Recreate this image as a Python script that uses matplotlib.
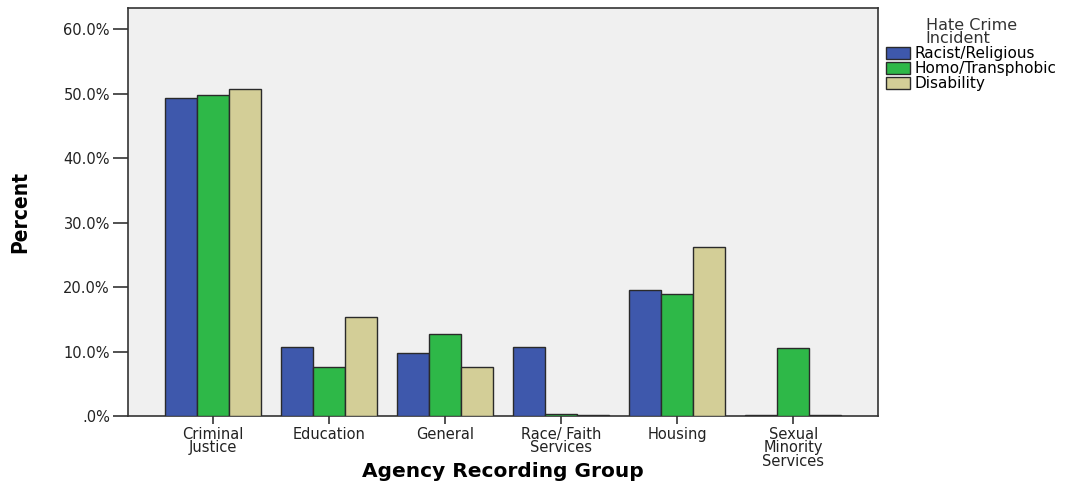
import matplotlib
matplotlib.use("Agg")
import matplotlib.pyplot as plt
import numpy as np

categories = ["Criminal\nJustice", "Education", "General", "Race/ Faith\nServices",
              "Housing", "Sexual\nMinority\nServices"]
racist = [49.3, 10.7, 9.8, 10.7, 19.5, 0.1]
homo = [49.8, 7.6, 12.7, 0.3, 18.9, 10.5]
disability = [50.7, 15.3, 7.6, 0.1, 26.2, 0.1]
series_names = ["Racist/Religious", "Homo/Transphobic", "Disability"]
colors = ["#3E58AC", "#2EB848", "#D3CE97"]
yticks = [0, 10, 20, 30, 40, 50, 60]
ytick_labels = [".0%", "10.0%", "20.0%", "30.0%", "40.0%", "50.0%", "60.0%"]

plt.rcParams['font.family'] = ['DejaVu Sans']

fig = plt.figure(figsize=(10.84, 4.86), dpi=100)
ax = fig.add_axes([0.118, 0.144, 0.692, 0.8395])
ax.set_facecolor('#F0F0F0')

x = np.arange(len(categories))
w = 0.275
for i, (vals, name, c) in enumerate(zip([racist, homo, disability], series_names, colors)):
    ax.bar(x + (i - 1) * w, vals, width=w, color=c, edgecolor='#2a2a2a',
           linewidth=1.0, label=name, zorder=3)

ax.set_xlim(-0.73, 5.73)
ax.set_ylim(0, 63.3)
ax.set_yticks(yticks)
ax.set_yticklabels(ytick_labels, fontsize=10.5, color='#222222')
ax.set_xticks(x)
ax.set_xticklabels(categories, fontsize=10.5, linespacing=0.85, color='#222222')
ax.tick_params(axis='y', direction='out', length=11, width=1.2, color='#333333', pad=2)
ax.tick_params(axis='x', direction='out', length=6, width=1.2, color='#333333', pad=2)

for s in ax.spines.values():
    s.set_color('#333333')
    s.set_linewidth(1.2)

# x label sits at fixed height, overlapping the space below the 3-line tick label
fig.text(0.464, 0.029, "Agency Recording Group", fontsize=14.5, fontweight='bold',
         ha='center', va='center')
ax.set_ylabel("Percent", fontsize=15, fontweight='bold', fontstretch='condensed',
              labelpad=24)

leg = ax.legend(loc='upper left', bbox_to_anchor=(1.002, 0.99), frameon=False,
                fontsize=11, title="Hate Crime\nIncident", title_fontsize=11.5,
                handlelength=1.6, handleheight=0.9, handletextpad=0.3,
                labelspacing=0.0, borderaxespad=0)
leg.get_title().set_linespacing(0.85)
leg.get_title().set_color('#333333')

fig.savefig("out.png", dpi=100)
